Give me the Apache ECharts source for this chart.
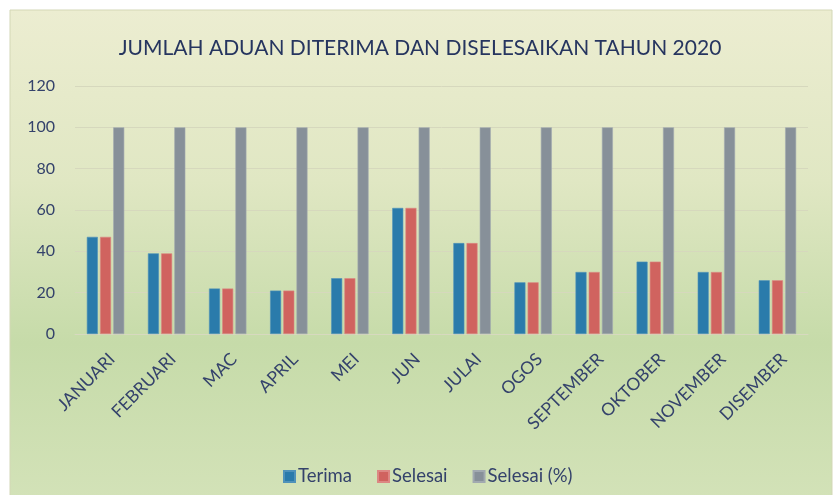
<!DOCTYPE html>
<html>
<head>
<meta charset="utf-8">
<script src="https://cdn.jsdelivr.net/npm/echarts@6/dist/echarts.min.js"></script>
<style>
html,body{margin:0;padding:0;background:#ffffff;}
#chart{width:835px;height:495px;}
</style>
</head>
<body>
<div id="chart"></div>
<script>
const titleText = 'JUMLAH ADUAN DITERIMA DAN DISELESAIKAN TAHUN 2020';
const categories = ['JANUARI','FEBRUARI','MAC','APRIL','MEI','JUN','JULAI','OGOS','SEPTEMBER','OKTOBER','NOVEMBER','DISEMBER'];
const seriesNames = ['Terima','Selesai','Selesai (%)'];
const terima = [47, 39, 22, 21, 27, 61, 44, 25, 30, 35, 30, 26];
const selesai = [47, 39, 22, 21, 27, 61, 44, 25, 30, 35, 30, 26];
const selesaiPct = [100, 100, 100, 100, 100, 100, 100, 100, 100, 100, 100, 100];
const yTicks = {min: 0, max: 120, interval: 20};

const FONT = "Lato, 'Open Sans', sans-serif";
const TXT = '#34426b';
const chart = echarts.init(document.getElementById('chart'), null, {renderer: 'canvas'});
chart.setOption({
  backgroundColor: '#ffffff',
  animation: false,
  graphic: [{
    type: 'rect', z: -10, silent: true,
    shape: {x: 10, y: 10, width: 822, height: 490},
    style: {
      fill: new echarts.graphic.LinearGradient(0, 0, 0, 1, [
        {offset: 0, color: '#ecedd1'},
        {offset: 0.35, color: '#e0e7c3'},
        {offset: 0.68, color: '#c6dba9'},
        {offset: 1, color: '#d3e2b8'}
      ]),
      stroke: '#d3d7b6', lineWidth: 1
    }
  }],
  title: {
    text: titleText, left: 415, top: 33, textAlign: 'center',
    textStyle: {fontFamily: FONT, fontSize: 21, fontWeight: 'normal', color: '#26355f'}
  },
  legend: {
    data: seriesNames, left: 278, top: 462, itemWidth: 11, itemHeight: 11, itemGap: 25,
    icon: 'rect',
    textStyle: {fontFamily: FONT, fontSize: 18.5, color: TXT, padding: [0, 0, 0, -2]}
  },
  grid: {left: 75, right: 27, top: 86, bottom: 161, containLabel: false},
  xAxis: {
    type: 'category', data: categories,
    axisLine: {lineStyle: {color: '#d7d9bf', width: 1}},
    axisTick: {show: false},
    axisLabel: {
      rotate: 45, interval: 0, margin: 16, verticalAlign: 'top',
      fontFamily: FONT, fontSize: 17.5, color: TXT
    }
  },
  yAxis: {
    type: 'value', min: yTicks.min, max: yTicks.max, interval: yTicks.interval,
    axisLine: {show: false}, axisTick: {show: false},
    splitLine: {lineStyle: {color: '#d6d8bd', width: 1}},
    axisLabel: {margin: 20, fontFamily: FONT, fontSize: 16, color: TXT}
  },
  series: [
    {name: seriesNames[0], type: 'bar', data: terima, barWidth: 11, barGap: '20%',
     itemStyle: {color: '#2a7bab', borderColor: '#4f92ba', borderWidth: 0.6}},
    {name: seriesNames[1], type: 'bar', data: selesai, barWidth: 11, barGap: '20%',
     itemStyle: {color: '#d0635f', borderColor: '#dc8783', borderWidth: 0.6}},
    {name: seriesNames[2], type: 'bar', data: selesaiPct, barWidth: 11, barGap: '20%',
     itemStyle: {color: '#879099', borderColor: '#a1a9b0', borderWidth: 0.6}}
  ]
});
</script>
</body>
</html>
